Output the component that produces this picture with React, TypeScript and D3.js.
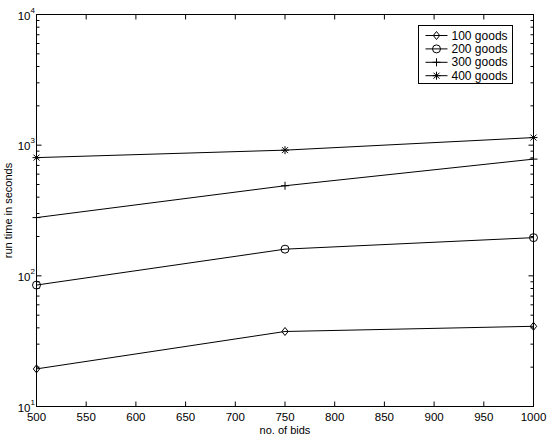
import React from "react";
import * as d3 from "d3";

const bids = [500, 750, 1000];
const goods100 = [19.4, 37.5, 41.1];
const goods200 = [85, 160, 196];
const goods300 = [279, 489, 782];
const goods400 = [803, 916, 1143];
const seriesNames = ["100 goods", "200 goods", "300 goods", "400 goods"];
const markerTypes = ["diamond", "circle", "plus", "star"];
const xTicks = [500, 550, 600, 650, 700, 750, 800, 850, 900, 950, 1000];
const yDecades = [1, 2, 3, 4];

const W = 550;
const H = 436;
const left = 36.5;
const right = 533.5;
const top = 14.5;
const bottom = 406.5;

function Marker({ type, x, y }: { type: string; x: number; y: number }) {
  const s = 4;
  if (type === "diamond")
    return <path d={`M${x},${y - s}L${x + s * 0.8},${y}L${x},${y + s}L${x - s * 0.8},${y}Z`} fill="none" stroke="#000" strokeWidth={1} />;
  if (type === "circle") return <circle cx={x} cy={y} r={s} fill="none" stroke="#000" strokeWidth={1} />;
  if (type === "plus")
    return <path d={`M${x - s},${y}H${x + s}M${x},${y - s}V${y + s}`} stroke="#000" strokeWidth={1} />;
  const d = s * 0.75;
  return (
    <path
      d={`M${x - s},${y}H${x + s}M${x},${y - s}V${y + s}M${x - d},${y - d}L${x + d},${y + d}M${x - d},${y + d}L${x + d},${y - d}`}
      stroke="#000"
      strokeWidth={1}
    />
  );
}

export default function App() {
  const x = d3.scaleLinear().domain([500, 1000]).range([left, right]);
  const y = d3.scaleLog().domain([10, 10000]).range([bottom, top]);
  const series = [goods100, goods200, goods300, goods400];
  const line = d3
    .line<number>()
    .x((_, i) => x(bids[i]))
    .y((v) => y(v));

  const minor: number[] = [];
  for (let e = 1; e < 4; e++) for (let m = 2; m <= 9; m++) minor.push(m * Math.pow(10, e));

  const font = "'Liberation Sans', Arial, Helvetica, sans-serif";
  const lx = 418.5;
  const ly = 25.5;

  return (
    <svg width={W} height={H} style={{ position: "absolute", left: 0, top: 0, background: "#fff" }} fontFamily={font}>
      <rect x={0} y={0} width={W} height={H} fill="#fff" />
      {/* x ticks */}
      {xTicks.map((t) => (
        <g key={t}>
          <line x1={x(t)} x2={x(t)} y1={bottom} y2={bottom - 5} stroke="#000" />
          <line x1={x(t)} x2={x(t)} y1={top} y2={top + 5} stroke="#000" />
          <text x={x(t)} y={bottom + 14} fontSize={11.5} textAnchor="middle">
            {t}
          </text>
        </g>
      ))}
      {/* y ticks */}
      {yDecades.map((e) => {
        const v = Math.pow(10, e);
        return (
          <g key={e}>
            <line x1={left} x2={left + 5} y1={y(v)} y2={y(v)} stroke="#000" />
            <line x1={right} x2={right - 5} y1={y(v)} y2={y(v)} stroke="#000" />
            <text x={left - 6} y={y(v) + 5} fontSize={11.5} textAnchor="end">
              10
            </text>
            <text x={left - 6} y={y(v) - 2} fontSize={8}>
              {e}
            </text>
          </g>
        );
      })}
      {minor.map((v) => (
        <g key={v}>
          <line x1={left} x2={left + 3} y1={y(v)} y2={y(v)} stroke="#000" />
          <line x1={right} x2={right - 3} y1={y(v)} y2={y(v)} stroke="#000" />
        </g>
      ))}
      <rect x={left} y={top} width={right - left} height={bottom - top} fill="none" stroke="#000" strokeWidth={1} />
      {/* series */}
      {series.map((s, i) => (
        <g key={i}>
          <path d={line(s) || ""} fill="none" stroke="#000" strokeWidth={1} />
          {s.map((v, j) => (
            <Marker key={j} type={markerTypes[i]} x={x(bids[j])} y={y(v)} />
          ))}
        </g>
      ))}
      {/* legend */}
      <rect x={lx} y={ly} width={94} height={58} fill="#fff" stroke="#000" strokeWidth={1} />
      {seriesNames.map((n, i) => {
        const yy = ly + 10 + i * 13.4;
        return (
          <g key={n}>
            <line x1={lx + 7} x2={lx + 29} y1={yy} y2={yy} stroke="#000" />
            <Marker type={markerTypes[i]} x={lx + 18} y={yy} />
            <text x={lx + 33} y={yy + 4} fontSize={12}>
              {n}
            </text>
          </g>
        );
      })}
      {/* axis titles */}
      <text x={(left + right) / 2} y={433.5} fontSize={11} textAnchor="middle">
        no. of bids
      </text>
      <text transform={`translate(12,${(top + bottom) / 2}) rotate(-90)`} fontSize={11} textAnchor="middle">
        run time in seconds
      </text>
    </svg>
  );
}
